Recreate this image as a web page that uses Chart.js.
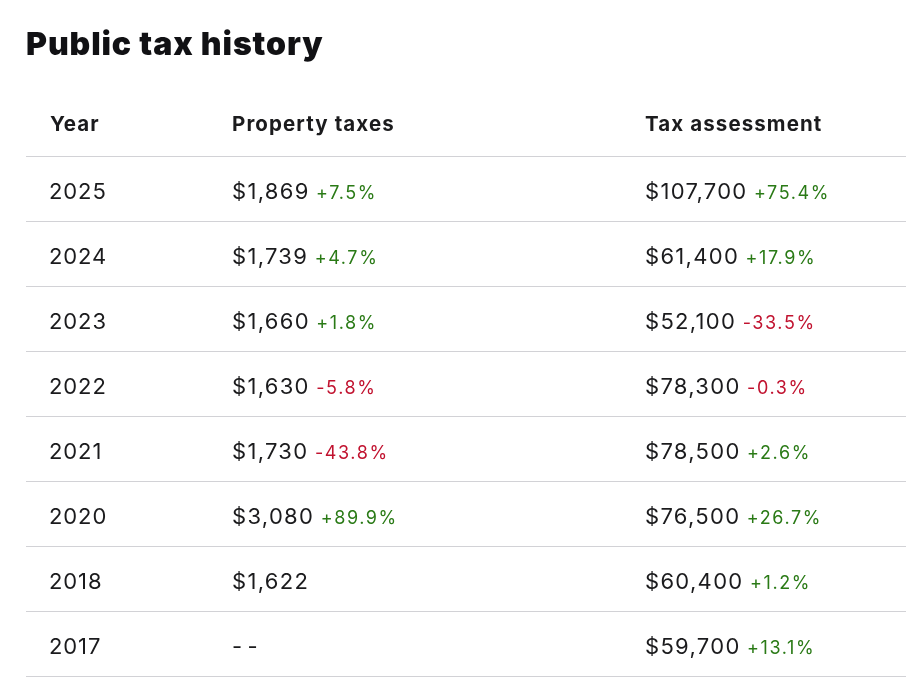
<!DOCTYPE html>
<html>
<head>
<meta charset="utf-8">
<script src="https://cdn.jsdelivr.net/npm/chart.js@4.4.1/dist/chart.umd.min.js"></script>
<style>
  html, body { margin: 0; padding: 0; background: #fff; }
  #wrap { position: relative; width: 906px; height: 687px; }
</style>
</head>
<body>
<div id="wrap"><canvas id="taxChart"></canvas></div>
<script>
const columnHeaders = ['Year', 'Property taxes', 'Tax assessment'];
const years = ['2025', '2024', '2023', '2022', '2021', '2020', '2018', '2017'];
const propertyTaxes = [1869, 1739, 1660, 1630, 1730, 3080, 1622, null];
const propertyTaxChange = [7.5, 4.7, 1.8, -5.8, -43.8, 89.9, null, null];
const taxAssessment = [107700, 61400, 52100, 78300, 78500, 76500, 60400, 59700];
const assessmentChange = [75.4, 17.9, -33.5, -0.3, 2.6, 26.7, 1.2, 13.1];

// row 0 is the header row, then one row per year
const rowLabels = [columnHeaders[0]].concat(years);

const FONT = 'Inter, "Noto Sans", sans-serif';
const colOffset = [24, 206, 619];
const textColor = '#1b1b1d';
const upColor = '#2a7a16';
const downColor = '#c1122f';

function money(v) {
  return v == null ? '--' : '$' + v.toLocaleString('en-US');
}
function pct(v) {
  if (v == null) return '';
  return (v >= 0 ? '+' : '-') + Math.abs(v).toFixed(1) + '%';
}

const tablePlugin = {
  id: 'tableCells',
  beforeDraw(chart) {
    // wider tracking for the title box, drawn next
    chart.ctx.letterSpacing = '0.9px';
  },
  beforeDatasetsDraw(chart) {
    chart.ctx.letterSpacing = '0px';
  },
  afterDraw(chart) {
    const ctx = chart.ctx;
    const y = chart.scales.y;
    const left = chart.chartArea.left;
    ctx.save();
    ctx.textAlign = 'left';
    ctx.textBaseline = 'alphabetic';

    // header
    const hy = y.getPixelForValue(0) + 7.5;
    ctx.font = '700 20.5px ' + FONT;
    ctx.letterSpacing = '1.1px';
    ctx.fillStyle = textColor;
    columnHeaders.forEach((h, c) => ctx.fillText(h, left + colOffset[c], hy));

    // body rows
    years.forEach((yr, i) => {
      const by = y.getPixelForValue(i + 1) + 10;
      ctx.font = '400 22px ' + FONT;
      ctx.letterSpacing = '0.9px';
      ctx.fillStyle = textColor;
      ctx.fillText(yr, left + colOffset[0] - 1, by);

      const cells = [
        [money(propertyTaxes[i]), propertyTaxChange[i]],
        [money(taxAssessment[i]), assessmentChange[i]]
      ];
      cells.forEach(([main, change], k) => {
        const x = left + colOffset[k + 1];
        ctx.font = '400 22px ' + FONT;
        ctx.letterSpacing = main === '--' ? '5.5px' : '1.3px';
        ctx.fillStyle = textColor;
        ctx.fillText(main, x, by);
        if (change != null) {
          const w = ctx.measureText(main + ' ').width;
          ctx.font = '400 18px ' + FONT;
          ctx.letterSpacing = '1.6px';
          ctx.fillStyle = change >= 0 ? upColor : downColor;
          ctx.fillText(pct(change), x + w - 1, by);
        }
      });
    });
    ctx.restore();
  }
};

new Chart(document.getElementById('taxChart'), {
  type: 'bar',
  data: {
    labels: rowLabels,
    datasets: []
  },
  options: {
    responsive: true,
    maintainAspectRatio: false,
    animation: false,
    events: [],
    layout: { padding: { left: 26, right: 0, top: 8, bottom: 11 } },
    plugins: {
      legend: { display: false },
      tooltip: { enabled: false },
      title: {
        display: true,
        text: 'Public tax history',
        align: 'start',
        color: '#111114',
        font: { family: FONT, size: 32, weight: '900' },
        padding: { top: 18, bottom: 27 }
      }
    },
    scales: {
      x: { type: 'linear', display: false, min: 0, max: 1 },
      y: {
        type: 'category',
        offset: true,
        border: { display: false },
        ticks: { display: false },
        grid: {
          offset: true,
          drawTicks: false,
          lineWidth: 1,
          color: c => c.index === 0 ? 'rgba(0,0,0,0)' : '#d2d2d6'
        }
      }
    }
  },
  plugins: [tablePlugin]
});
</script>
</body>
</html>
